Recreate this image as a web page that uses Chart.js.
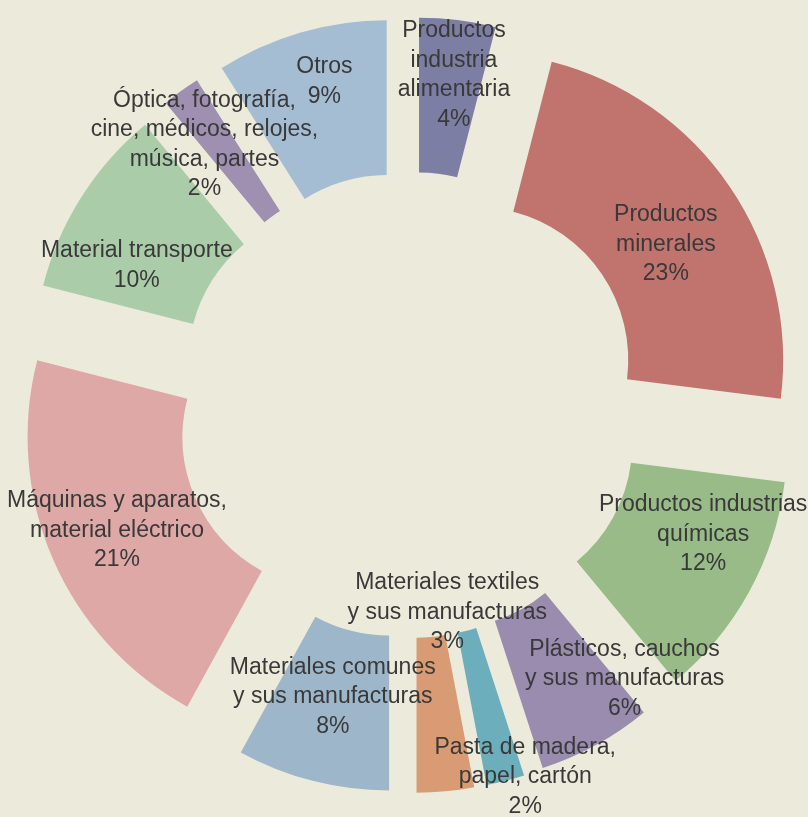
<!DOCTYPE html>
<html>
<head>
<meta charset="utf-8">
<script src="https://cdn.jsdelivr.net/npm/chart.js@4.4.1/dist/chart.umd.min.js"></script>
<style>
  body { margin: 0; background: #ecebdb; }
  #wrap { width: 808px; height: 817px; }
</style>
</head>
<body>
<div id="wrap"><canvas id="exportChart" width="808" height="817"></canvas></div>
<script>
// Categories, clockwise from 12 o'clock
const categories = [
  "Productos\nindustria\nalimentaria",
  "Productos\nminerales",
  "Productos industrias\nquímicas",
  "Plásticos, cauchos\ny sus manufacturas",
  "Pasta de madera,\npapel, cartón",
  "Materiales textiles\ny sus manufacturas",
  "Materiales comunes\ny sus manufacturas",
  "Máquinas y aparatos,\nmaterial eléctrico",
  "Material transporte",
  "Óptica, fotografía,\ncine, médicos, relojes,\nmúsica, partes",
  "Otros"
];
const shares = [4, 23, 12, 6, 2, 3, 8, 21, 10, 2, 9];

const sliceColors = [
  "#7d7ea3", "#c1736d", "#98bb87", "#9a8cae", "#6caebb", "#d99b73",
  "#9eb6ca", "#dda8a5", "#abcca9", "#9f8fb1", "#a5bdd3"
];

// how far each slice is pushed out from the centre (px)
const explode = 80;
// label nudges from the middle of each slice [dx, dy]
const labelShift = [
  [6, -22], [0, 14], [22, -20], [66, 2], [39, 71], [9, -102],
  [1, -9], [-7, 2], [-10, 27], [-22, -9], [2, -25]
];

// Chart.js moves an arc by offset/4 but also grows its radius and trims its
// angle for thin slices; undo that so every slice is pushed out the same way
const evenExplode = {
  id: "evenExplode",
  afterDatasetsUpdate(chart) {
    chart.getDatasetMeta(0).data.forEach(arc => {
      const fix = 1 - Math.sin(Math.min(Math.PI, arc.circumference));
      const grow = explode * fix;
      const trim = grow / (2 * Math.PI * arc.outerRadius);
      arc.innerRadius -= grow;
      arc.outerRadius -= grow;
      arc.startAngle -= trim;
      arc.endAngle += trim;
    });
  }
};

const sliceLabels = {
  id: "sliceLabels",
  afterDatasetsDraw(chart) {
    const c = chart.ctx;
    const meta = chart.getDatasetMeta(0);
    const ring = meta.controller;
    const r = (ring.innerRadius + ring.outerRadius) / 2 + explode;
    c.save();
    c.font = "23px 'Liberation Sans', Arial, sans-serif";
    c.fillStyle = "#393939";
    c.textAlign = "center";
    c.textBaseline = "middle";
    meta.data.forEach((arc, i) => {
      const mid = (arc.startAngle + arc.endAngle) / 2;
      const lines = categories[i].split("\n").concat([shares[i] + "%"]);
      const lh = 29.5;
      const cx = arc.x + Math.cos(mid) * r + labelShift[i][0];
      const cy = arc.y + Math.sin(mid) * r + labelShift[i][1] - (lines.length - 1) * lh / 2;
      lines.forEach((t, k) => c.fillText(t, cx, cy + k * lh));
    });
    c.restore();
  }
};

const ctx = document.getElementById("exportChart").getContext("2d");
new Chart(ctx, {
  type: "doughnut",
  data: {
    labels: categories,
    datasets: [{
      data: shares,
      backgroundColor: sliceColors,
      borderWidth: 0,
      offset: explode * 4
    }]
  },
  options: {
    responsive: false,
    animation: false,
    radius: 308,
    cutout: "49.7%",
    layout: { padding: { left: 10, bottom: 7 } },
    plugins: {
      legend: { display: false },
      tooltip: { enabled: false }
    }
  },
  plugins: [evenExplode, sliceLabels]
});
</script>
</body>
</html>
